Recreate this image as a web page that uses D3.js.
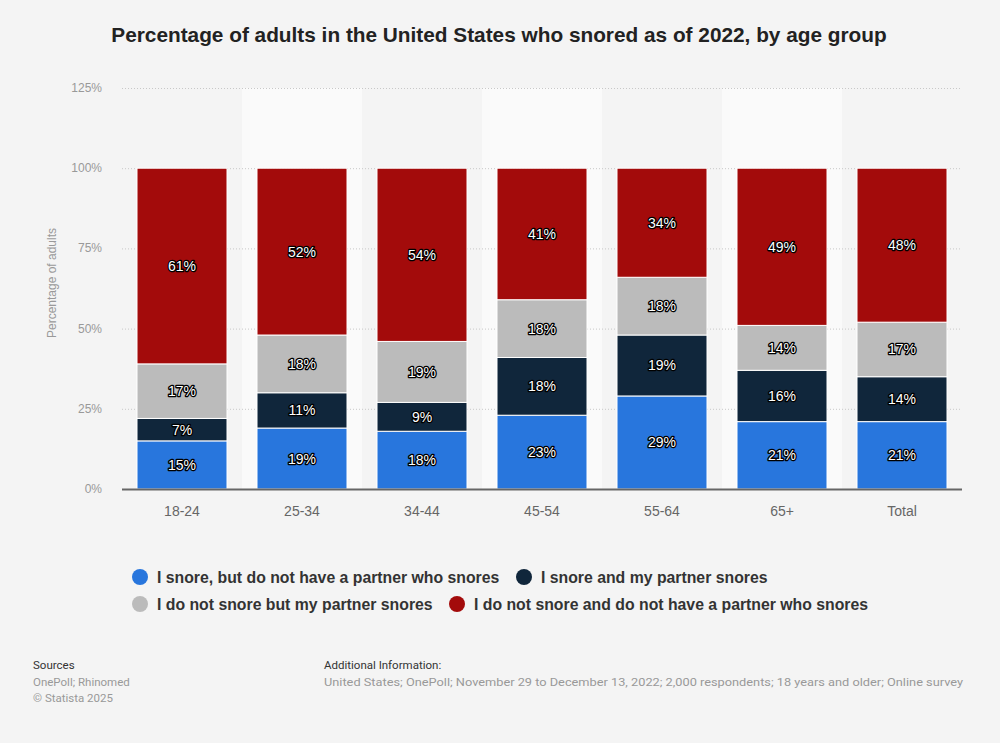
<!DOCTYPE html>
<html>
<head>
    <script src="https://cdn.jsdelivr.net/npm/d3@7"></script>
    <style>
        body { margin: 0; background: #f4f4f4; }
        svg { display: block; font-family: "Liberation Sans", Arial, sans-serif; }
        .lbl { fill: #fff; stroke: #000; stroke-width: 2.6px; paint-order: stroke; stroke-linejoin: round; font-size: 14px; }
    </style>
</head>
<body>
<svg width="1000" height="743"></svg>
<script>
    // data
    const groups = ["18-24", "25-34", "34-44", "45-54", "55-64", "65+", "Total"];
    const snoreNoPartner = [15, 19, 18, 23, 29, 21, 21];
    const bothSnore = [7, 11, 9, 18, 19, 16, 14];
    const partnerSnores = [17, 18, 19, 18, 18, 14, 17];
    const nobodySnores = [61, 52, 54, 41, 34, 49, 48];

    const seriesNames = [
        "I snore, but do not have a partner who snores",
        "I snore and my partner snores",
        "I do not snore but my partner snores",
        "I do not snore and do not have a partner who snores"
    ];
    const colors = ["#2876dd", "#10263b", "#bbbbbb", "#a30b0b"];
    const yTicks = [0, 25, 50, 75, 100, 125];

    const svg = d3.select("svg");
    const margin = { left: 122, right: 962, top: 88, bottom: 489 };

    const rows = groups.map(function(g, i) {
        return { group: g, s0: snoreNoPartner[i], s1: bothSnore[i], s2: partnerSnores[i], s3: nobodySnores[i] };
    });
    const stacked = d3.stack().keys(["s0", "s1", "s2", "s3"])(rows);

    const x = d3.scaleBand().domain(groups).range([margin.left, margin.right]).paddingInner(0.25).paddingOuter(0.125);
    const y = d3.scaleLinear().domain([0, 125]).range([margin.bottom, margin.top]);
    const step = x.step();

    // title
    svg.append("text")
        .attr("x", 499).attr("y", 42)
        .attr("text-anchor", "middle")
        .style("font-size", "20.8px").style("font-weight", "bold").style("fill", "#222")
        .text("Percentage of adults in the United States who snored as of 2022, by age group");

    // alternating column bands
    svg.append("g").selectAll("rect")
        .data(groups)
        .enter().append("rect")
            .attr("x", function(d) { return x(d) - step * x.paddingInner() / 2; })
            .attr("y", y(125))
            .attr("width", step)
            .attr("height", y(0) - y(125))
            .style("fill", function(d, i) { return i % 2 ? "#fafafa" : "#f4f4f4"; });

    // grid
    svg.append("g").selectAll("line")
        .data(yTicks)
        .enter().append("line")
            .attr("x1", margin.left).attr("x2", margin.right)
            .attr("y1", function(d) { return y(d) + 0.5; })
            .attr("y2", function(d) { return y(d) + 0.5; })
            .style("stroke", "#c8c8c8").style("stroke-dasharray", "1,2");

    // y axis labels
    svg.append("g").selectAll("text")
        .data(yTicks)
        .enter().append("text")
            .attr("x", 102).attr("y", function(d) { return y(d) + 4; })
            .attr("text-anchor", "end")
            .style("font-size", "12px").style("fill", "#999")
            .text(function(d) { return d + "%"; });

    svg.append("text")
        .attr("transform", "translate(56,283) rotate(-90)")
        .attr("text-anchor", "middle")
        .style("font-size", "12px").style("fill", "#999")
        .text("Percentage of adults");

    // bars
    const layer = svg.append("g").selectAll("g")
        .data(stacked)
        .enter().append("g")
            .style("fill", function(d, i) { return colors[i]; });

    layer.selectAll("rect")
        .data(function(d) { return d; })
        .enter().append("rect")
            .attr("x", function(d) { return x(d.data.group); })
            .attr("y", function(d) { return y(d[1]); })
            .attr("width", x.bandwidth())
            .attr("height", function(d) { return y(d[0]) - y(d[1]); })
            .style("stroke", "#fff").style("stroke-width", 1);

    // value labels
    layer.selectAll("text")
        .data(function(d) { return d; })
        .enter().append("text")
            .attr("class", "lbl")
            .attr("x", function(d) { return x(d.data.group) + x.bandwidth() / 2; })
            .attr("y", function(d) { return (y(d[0]) + y(d[1])) / 2 + 5; })
            .attr("text-anchor", "middle")
            .text(function(d) { return (d[1] - d[0]) + "%"; });

    // baseline
    svg.append("line")
        .attr("x1", margin.left).attr("x2", margin.right)
        .attr("y1", y(0) + 0.5).attr("y2", y(0) + 0.5)
        .style("stroke", "#666").style("stroke-width", 2);

    // x labels
    svg.append("g").selectAll("text")
        .data(groups)
        .enter().append("text")
            .attr("x", function(d) { return x(d) + x.bandwidth() / 2; })
            .attr("y", 516)
            .attr("text-anchor", "middle")
            .style("font-size", "14px").style("fill", "#666")
            .text(function(d) { return d; });

    // legend
    const legendPos = [[140, 577], [524, 577], [140, 604], [457, 604]];
    const leg = svg.append("g").selectAll("g")
        .data(seriesNames)
        .enter().append("g")
            .attr("transform", function(d, i) { return "translate(" + legendPos[i][0] + "," + legendPos[i][1] + ")"; });
    leg.append("circle").attr("r", 8).style("fill", function(d, i) { return colors[i]; });
    leg.append("text")
        .attr("x", 17).attr("y", 5.5)
        .style("font-size", "15.8px").style("font-weight", "bold").style("fill", "#333")
        .text(function(d) { return d; });

    // footer
    const foot = svg.append("g").style("font-family", "Roboto, sans-serif").style("font-size", "11.5px");
    foot.append("text").attr("x", 33).attr("y", 669).style("fill", "#333").text("Sources");
    foot.append("text").attr("x", 33).attr("y", 686).style("fill", "#999").text("OnePoll; Rhinomed");
    foot.append("text").attr("x", 33).attr("y", 702).style("fill", "#999").text("© Statista 2025");
    foot.append("text").attr("x", 324).attr("y", 669).style("fill", "#333").text("Additional Information:");
    foot.append("text").attr("x", 324).attr("y", 686).style("fill", "#999")
        .attr("textLength", 639).attr("lengthAdjust", "spacingAndGlyphs")
        .text("United States; OnePoll; November 29 to December 13, 2022; 2,000 respondents; 18 years and older; Online survey");
</script>
</body>
</html>
